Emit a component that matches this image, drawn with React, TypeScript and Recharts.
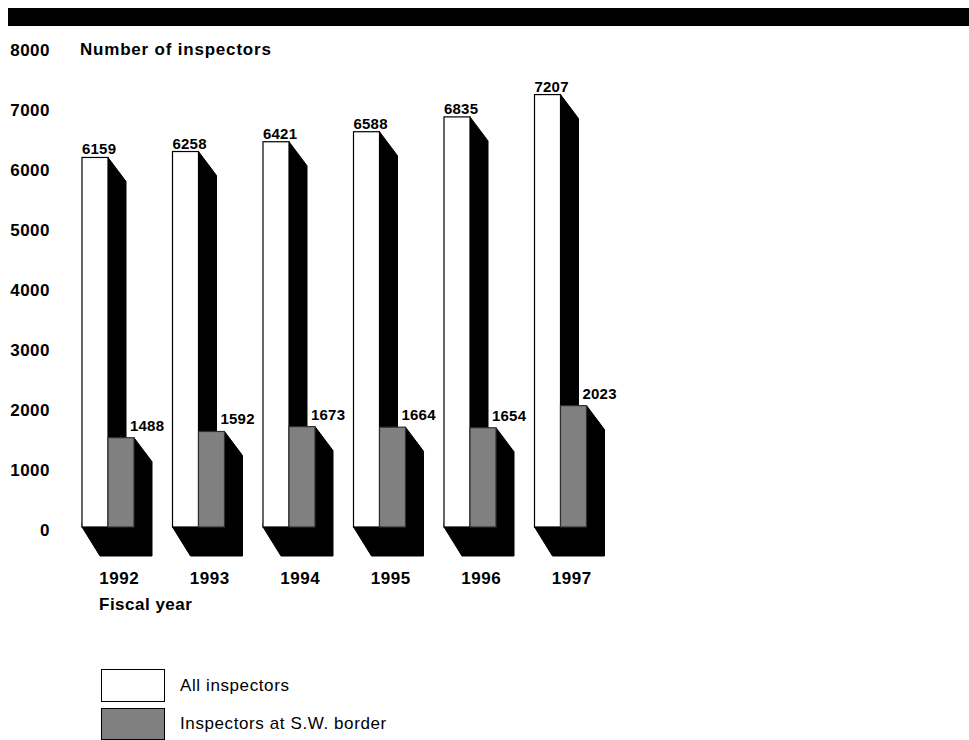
import React from 'react';
import { BarChart, Bar, XAxis, YAxis, LabelList, Legend } from 'recharts';

const years = ['1992', '1993', '1994', '1995', '1996', '1997'];
const allInspectors = [6159, 6258, 6421, 6588, 6835, 7207];
const swBorder = [1488, 1592, 1673, 1664, 1654, 2023];
const yTicks = [0, 1000, 2000, 3000, 4000, 5000, 6000, 7000, 8000];

const data = years.map((y, i) => ({ year: y, all: allInspectors[i], sw: swBorder[i] }));

const FONT = '"Liberation Sans", Arial, Helvetica, sans-serif';
const GRAY = '#808080';
const DX = 18;
const DY_TOP = 24;
const DY_BOTTOM = 29;

const Bar3D = (props: any) => {
  const { x, y, width, height, fill, stroke } = props;
  if (x == null || y == null) return null;
  const w = width;
  const h = height;
  const pts = [
    [x + w, y],
    [x + w + DX, y + DY_TOP],
    [x + w + DX, y + h + DY_BOTTOM],
    [x + DX, y + h + DY_BOTTOM],
    [x, y + h],
  ]
    .map((p) => p.join(','))
    .join(' ');
  return (
    <g>
      <polygon points={pts} fill="#000" stroke="#000" strokeWidth={1} />
      <rect x={x} y={y} width={w} height={h} fill={fill} stroke={stroke} strokeWidth={1.2} />
    </g>
  );
};

const AllLabel = (props: any) => {
  const { x, y, value } = props;
  return (
    <text x={x} y={y - 3} textAnchor="start" fontFamily={FONT} fontWeight="bold" fontSize={15} letterSpacing={0.2} fill="#000">
      {value}
    </text>
  );
};

const SwLabel = (props: any) => {
  const { x, y, width, value } = props;
  return (
    <text x={x + width - 4} y={y - 7} textAnchor="start" fontFamily={FONT} fontWeight="bold" fontSize={15} letterSpacing={0.2} fill="#000">
      {value}
    </text>
  );
};

const YTick = (props: any) => {
  const { x, y, payload } = props;
  return (
    <text x={x} y={y + 9} textAnchor="end" fontFamily={FONT} fontWeight="bold" fontSize={17} letterSpacing={0.5} fill="#000">
      {payload.value}
    </text>
  );
};

const XTick = (props: any) => {
  const { x, y, payload } = props;
  return (
    <text x={x + 11} y={y + 55} textAnchor="middle" fontFamily={FONT} fontWeight="bold" fontSize={17} letterSpacing={0.5} fill="#000">
      {payload.value}
    </text>
  );
};

const LegendContent = () => (
  <div style={{ fontFamily: FONT, fontSize: 17, letterSpacing: 0.6, color: '#000', height: 72 }}>
    <div style={{ display: 'flex', alignItems: 'center', height: 33, marginBottom: 5 }}>
      <div style={{ width: 62, height: 31, border: '1.5px solid #000', background: '#fff' }} />
      <span style={{ marginLeft: 15 }}>All inspectors</span>
    </div>
    <div style={{ display: 'flex', alignItems: 'center', height: 33 }}>
      <div style={{ width: 62, height: 30, border: '1.5px solid #000', background: GRAY }} />
      <span style={{ marginLeft: 15 }}>Inspectors at S.W. border</span>
    </div>
  </div>
);

export default function App() {
  return (
    <div style={{ position: 'relative', width: 969, height: 740, overflow: 'hidden', background: '#fff' }}>
      <style>{'body{margin:0}'}</style>
      <div style={{ position: 'absolute', left: 8, top: 8, width: 961, height: 18, background: '#000' }} />
      <div
        style={{
          position: 'absolute',
          left: 80,
          top: 40,
          fontFamily: FONT,
          fontWeight: 'bold',
          fontSize: 17,
          letterSpacing: 0.8,
          lineHeight: '20px',
        }}
      >
        Number of inspectors
      </div>
      <div
        style={{
          position: 'absolute',
          left: 99,
          top: 595,
          fontFamily: FONT,
          fontWeight: 'bold',
          fontSize: 17,
          letterSpacing: 0.5,
          lineHeight: '20px',
        }}
      >
        Fiscal year
      </div>
      <BarChart
        width={969}
        height={740}
        data={data}
        margin={{ top: 47, right: 363, bottom: 111, left: 0 }}
        barGap={0}
        barSize={26}
        style={{ position: 'absolute', left: 0, top: 0 }}
      >
        <XAxis dataKey="year" height={30} axisLine={false} tickLine={false} tickSize={0} tick={<XTick />} interval={0} />
        <YAxis
          width={63}
          domain={[0, 8000]}
          ticks={yTicks}
          axisLine={false}
          tickLine={false}
          tickSize={0}
          tickMargin={13}
          tick={<YTick />}
          interval={0}
        />
        <Legend
          content={<LegendContent />}
          wrapperStyle={{ position: 'absolute', left: 101, top: 669, width: 400, height: 72 }}
        />
        <Bar dataKey="all" name="All inspectors" fill="#fff" stroke="#000" shape={<Bar3D />} isAnimationActive={false}>
          <LabelList dataKey="all" content={<AllLabel />} />
        </Bar>
        <Bar dataKey="sw" name="Inspectors at S.W. border" fill={GRAY} stroke="#303030" shape={<Bar3D />} isAnimationActive={false}>
          <LabelList dataKey="sw" content={<SwLabel />} />
        </Bar>
      </BarChart>
    </div>
  );
}
